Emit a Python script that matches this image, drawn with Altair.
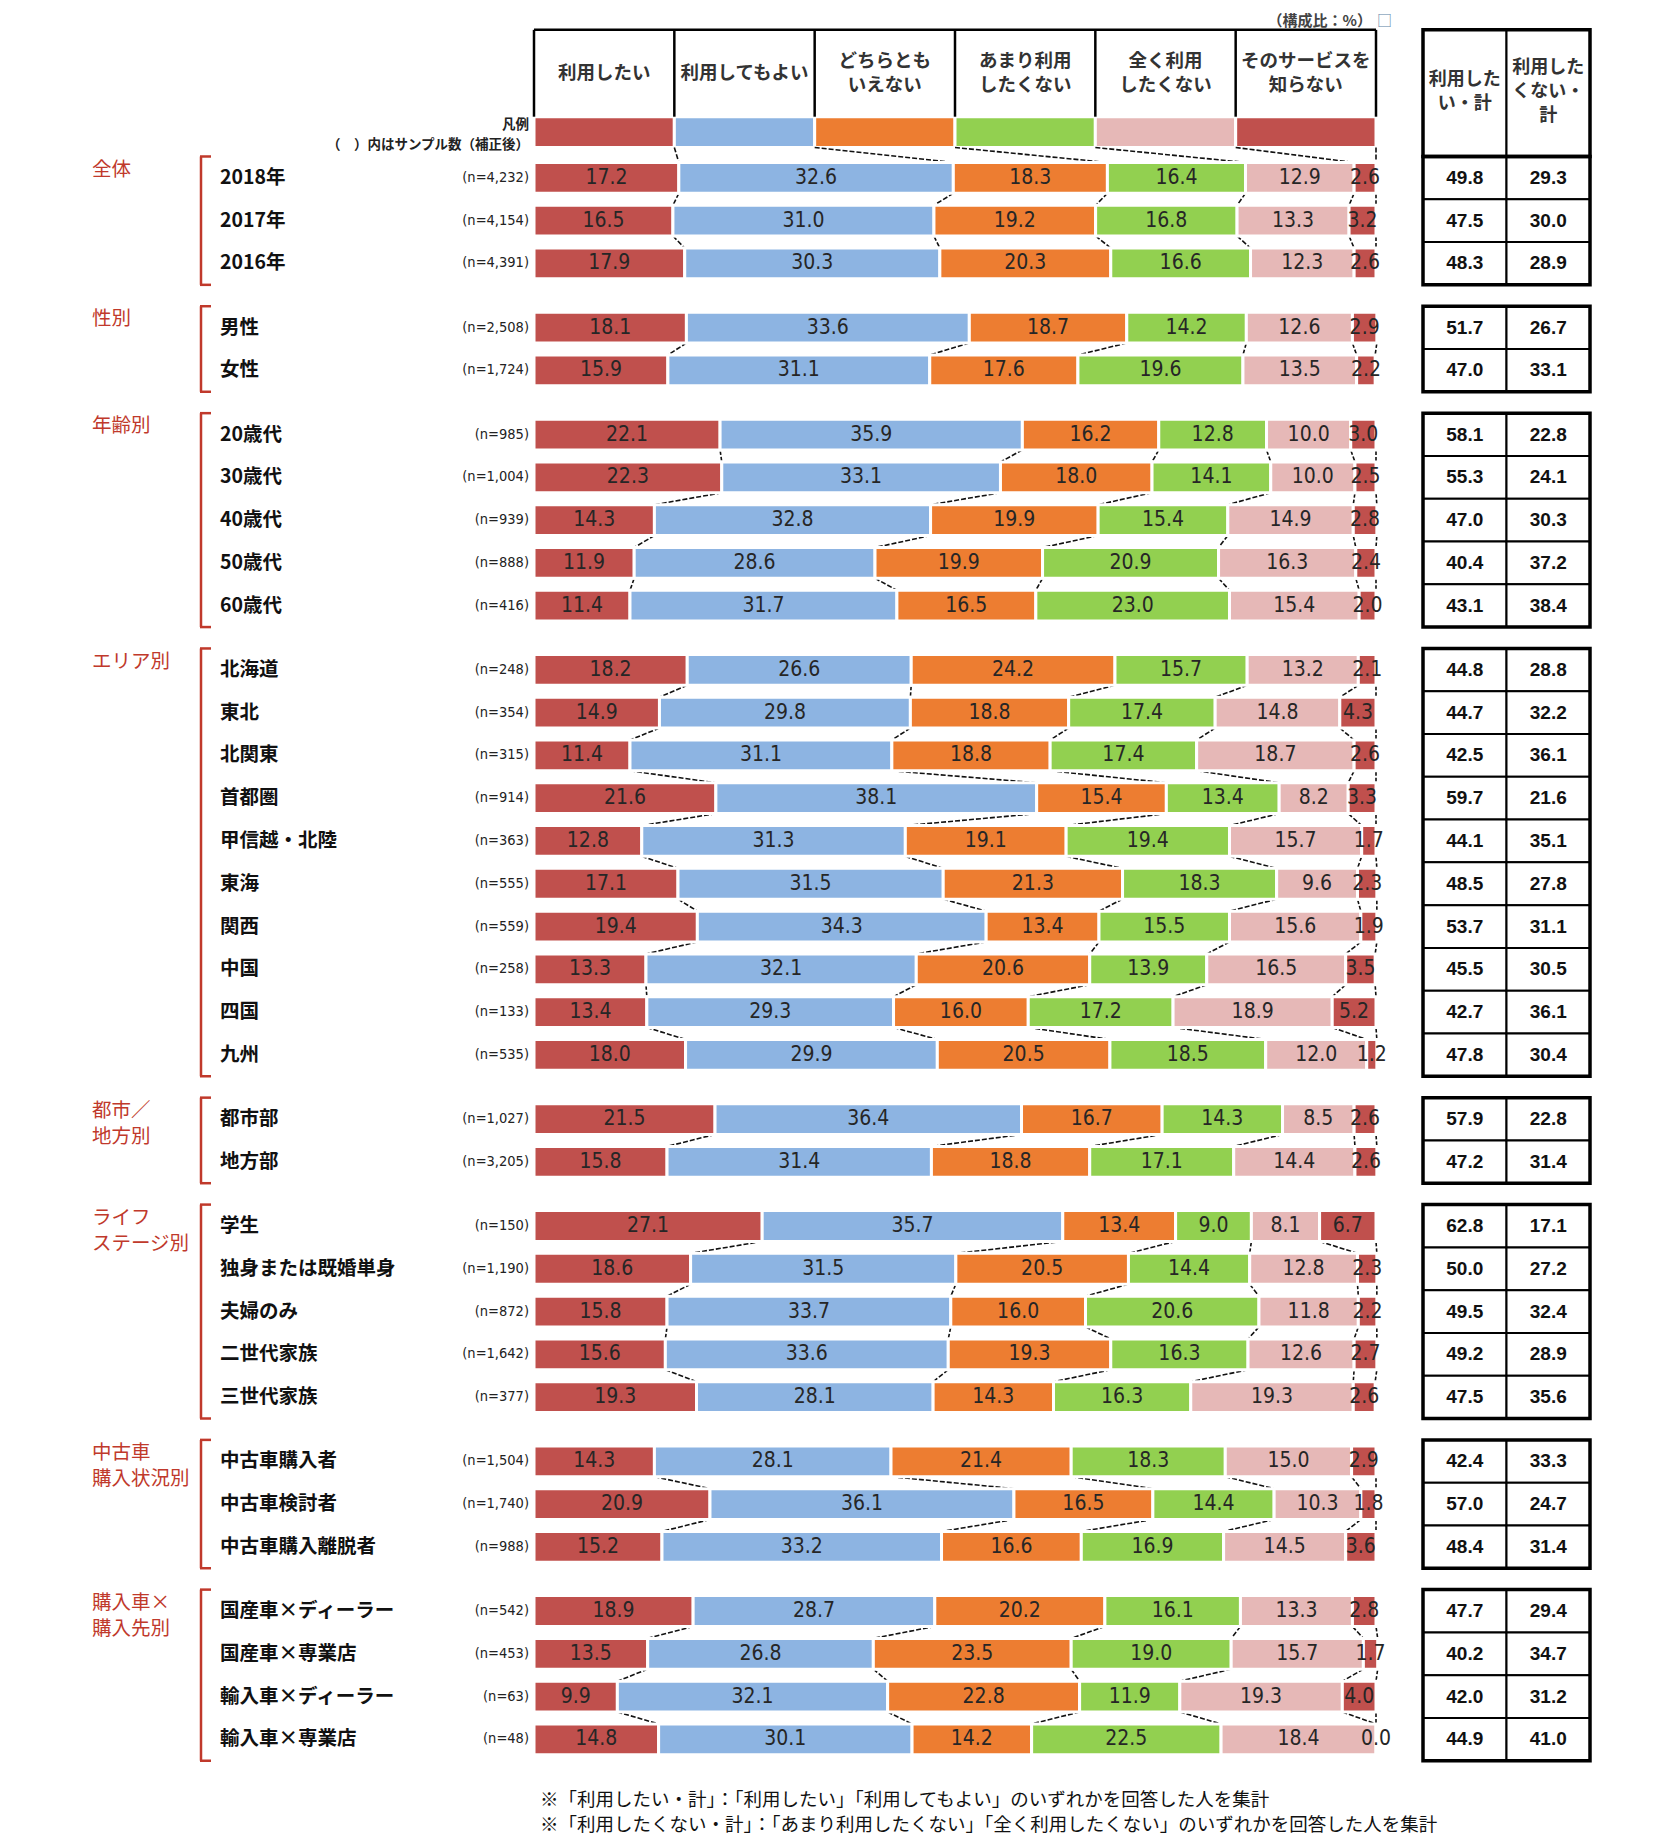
import altair as alt
import pandas as pd

# ---------------- data ----------------
series_names = ["利用したい", "利用してもよい", "どちらともいえない",
                "あまり利用したくない", "全く利用したくない", "そのサービスを知らない"]
header_labels = ["利用したい", "利用してもよい", "どちらとも\nいえない",
                 "あまり利用\nしたくない", "全く利用\nしたくない", "そのサービスを\n知らない"]
series_colors = ["#C0504D", "#8DB4E2", "#ED7D31", "#92D050", "#E6B8B7", "#C0504D"]

group_labels = ["全体", "性別", "年齢別", "エリア別", "都市／\n地方別",
                "ライフ\nステージ別", "中古車\n購入状況別", "購入車×\n購入先別"]
group_sizes = [3, 2, 5, 10, 2, 5, 3, 4]

row_labels = ["2018年", "2017年", "2016年", "男性", "女性",
              "20歳代", "30歳代", "40歳代", "50歳代", "60歳代",
              "北海道", "東北", "北関東", "首都圏", "甲信越・北陸", "東海", "関西", "中国", "四国", "九州",
              "都市部", "地方部",
              "学生", "独身または既婚単身", "夫婦のみ", "二世代家族", "三世代家族",
              "中古車購入者", "中古車検討者", "中古車購入離脱者",
              "国産車×ディーラー", "国産車×専業店", "輸入車×ディーラー", "輸入車×専業店"]
sample_sizes = ["(n=4,232)", "(n=4,154)", "(n=4,391)", "(n=2,508)", "(n=1,724)",
                "(n=985)", "(n=1,004)", "(n=939)", "(n=888)", "(n=416)",
                "(n=248)", "(n=354)", "(n=315)", "(n=914)", "(n=363)", "(n=555)", "(n=559)",
                "(n=258)", "(n=133)", "(n=535)",
                "(n=1,027)", "(n=3,205)",
                "(n=150)", "(n=1,190)", "(n=872)", "(n=1,642)", "(n=377)",
                "(n=1,504)", "(n=1,740)", "(n=988)",
                "(n=542)", "(n=453)", "(n=63)", "(n=48)"]

v_want = [17.2, 16.5, 17.9, 18.1, 15.9, 22.1, 22.3, 14.3, 11.9, 11.4,
          18.2, 14.9, 11.4, 21.6, 12.8, 17.1, 19.4, 13.3, 13.4, 18.0,
          21.5, 15.8, 27.1, 18.6, 15.8, 15.6, 19.3, 14.3, 20.9, 15.2,
          18.9, 13.5, 9.9, 14.8]
v_ok = [32.6, 31.0, 30.3, 33.6, 31.1, 35.9, 33.1, 32.8, 28.6, 31.7,
        26.6, 29.8, 31.1, 38.1, 31.3, 31.5, 34.3, 32.1, 29.3, 29.9,
        36.4, 31.4, 35.7, 31.5, 33.7, 33.6, 28.1, 28.1, 36.1, 33.2,
        28.7, 26.8, 32.1, 30.1]
v_neutral = [18.3, 19.2, 20.3, 18.7, 17.6, 16.2, 18.0, 19.9, 19.9, 16.5,
             24.2, 18.8, 18.8, 15.4, 19.1, 21.3, 13.4, 20.6, 16.0, 20.5,
             16.7, 18.8, 13.4, 20.5, 16.0, 19.3, 14.3, 21.4, 16.5, 16.6,
             20.2, 23.5, 22.8, 14.2]
v_rather_not = [16.4, 16.8, 16.6, 14.2, 19.6, 12.8, 14.1, 15.4, 20.9, 23.0,
                15.7, 17.4, 17.4, 13.4, 19.4, 18.3, 15.5, 13.9, 17.2, 18.5,
                14.3, 17.1, 9.0, 14.4, 20.6, 16.3, 16.3, 18.3, 14.4, 16.9,
                16.1, 19.0, 11.9, 22.5]
v_never = [12.9, 13.3, 12.3, 12.6, 13.5, 10.0, 10.0, 14.9, 16.3, 15.4,
           13.2, 14.8, 18.7, 8.2, 15.7, 9.6, 15.6, 16.5, 18.9, 12.0,
           8.5, 14.4, 8.1, 12.8, 11.8, 12.6, 19.3, 15.0, 10.3, 14.5,
           13.3, 15.7, 19.3, 18.4]
v_unknown = [2.6, 3.2, 2.6, 2.9, 2.2, 3.0, 2.5, 2.8, 2.4, 2.0,
             2.1, 4.3, 2.6, 3.3, 1.7, 2.3, 1.9, 3.5, 5.2, 1.2,
             2.6, 2.6, 6.7, 2.3, 2.2, 2.7, 2.6, 2.9, 1.8, 3.6,
             2.8, 1.7, 4.0, 0.0]
total_want = [49.8, 47.5, 48.3, 51.7, 47.0, 58.1, 55.3, 47.0, 40.4, 43.1,
              44.8, 44.7, 42.5, 59.7, 44.1, 48.5, 53.7, 45.5, 42.7, 47.8,
              57.9, 47.2, 62.8, 50.0, 49.5, 49.2, 47.5, 42.4, 57.0, 48.4,
              47.7, 40.2, 42.0, 44.9]
total_not = [29.3, 30.0, 28.9, 26.7, 33.1, 22.8, 24.1, 30.3, 37.2, 38.4,
             28.8, 32.2, 36.1, 21.6, 35.1, 27.8, 31.1, 30.5, 36.1, 30.4,
             22.8, 31.4, 17.1, 27.2, 32.4, 28.9, 35.6, 33.3, 24.7, 31.4,
             29.4, 34.7, 31.2, 41.0]
table_headers = ["利用した\nい・計", "利用した\nくない・\n計"]
unit_note = "（構成比：%）"
unit_box = "□"
legend_note = "凡例"
sample_note = "（　）内はサンプル数（補正後）"
footnotes = ["※「利用したい・計」：「利用したい」「利用してもよい」のいずれかを回答した人を集計",
             "※「利用したくない・計」：「あまり利用したくない」「全く利用したくない」のいずれかを回答した人を集計"]

series_values = [v_want, v_ok, v_neutral, v_rather_not, v_never, v_unknown]

# ---------------- layout constants ----------------
H = 1826
W_LAB, W_BAR, W_TAB = 526, 842, 282
TAB_L, TAB_R = 47, 214
HALF = 0.36
LEG_Y = -1.07
HEAD_TOP = -3.46
HEAD_BOT = LEG_Y - HALF
LINE_U = 0.28          # half a text line in row units
PITCH = 42.78
Y_MIN = -3.971
Y_MAX = Y_MIN + H / PITCH
UNIT_Y = Y_MIN + 0.31
JP = "Noto Sans CJK JP"
NUM = "Liberation Sans Narrow, DejaVu Sans Condensed, Liberation Sans, sans-serif"
RED = "#C0392B"

YS = alt.Scale(domain=[Y_MIN, Y_MAX], reverse=True, nice=False, zero=False)
XS = alt.Scale(domain=[0, 100], nice=False, zero=False)
XT = alt.Scale(domain=[0, 2], range=[TAB_L, TAB_R], nice=False, zero=False)
CS = alt.Scale(domain=series_names, range=series_colors)

# row positions (groups separated by half a row)
pos, grp = [], []
i = 0
for g, size in enumerate(group_sizes):
    for _ in range(size):
        pos.append(i + 0.5 * g)
        grp.append(g)
        i += 1
n = len(row_labels)

bars = pd.DataFrame([
    dict(row=r, pos=pos[r], k=k, series=series_names[k], value=series_values[k][r])
    for r in range(n) for k in range(6)
])

legend_df = pd.DataFrame([
    dict(k=k, series=series_names[k], label=header_labels[k],
         x0=k * 100 / 6, x1=(k + 1) * 100 / 6, xm=(k + 0.5) * 100 / 6,
         ytop=LEG_Y - HALF, ybot=LEG_Y + HALF,
         yh=-2.45 - header_labels[k].count("\n") * LINE_U)
    for k in range(6)
])
divider_df = pd.DataFrame([dict(x=k * 100 / 6, y=HEAD_TOP, y2=HEAD_BOT) for k in range(7)])
topline_df = pd.DataFrame([dict(x=0, x2=100, y=HEAD_TOP)])

cum = []
for r in range(n):
    c, lst = 0.0, []
    for k in range(6):
        c += series_values[k][r]
        lst.append(c)
    cum.append(lst)
conn = []
for k in range(6):
    conn.append(dict(xa=(k + 1) * 100 / 6, ya=LEG_Y + HALF, xb=cum[0][k], yb=pos[0] - HALF))
for r in range(n - 1):
    if grp[r] == grp[r + 1]:
        for k in range(6):
            conn.append(dict(xa=cum[r][k], ya=pos[r] + HALF, xb=cum[r + 1][k], yb=pos[r + 1] - HALF))
conn_df = pd.DataFrame(conn)

# ---------------- bar panel ----------------
stacked = alt.Chart(bars).transform_stack(
    stack="value", groupby=["row"], as_=["x0", "x1"],
    sort=[alt.SortField("k", order="ascending")]
).transform_calculate(
    ytop=f"datum.pos - {HALF}", ybot=f"datum.pos + {HALF}", xm="(datum.x0 + datum.x1) / 2"
)
bar_rects = stacked.mark_rect(stroke="white", strokeWidth=3).encode(
    x=alt.X("x0:Q", scale=XS, axis=None), x2="x1:Q",
    y=alt.Y("ytop:Q", scale=YS, axis=None), y2="ybot:Q",
    color=alt.Color("series:N", scale=CS, legend=None),
)
bar_text = stacked.mark_text(font=NUM, fontSize=21, color="#262626", baseline="middle").encode(
    x=alt.X("xm:Q", scale=XS, axis=None),
    y=alt.Y("pos:Q", scale=YS, axis=None),
    text=alt.Text("value:Q", format=".1f"),
)
connectors = alt.Chart(conn_df).mark_rule(color="#111", strokeWidth=1.6, strokeDash=[5, 2]).encode(
    x=alt.X("xa:Q", scale=XS, axis=None), x2="xb:Q",
    y=alt.Y("ya:Q", scale=YS, axis=None), y2="yb:Q",
)
legend_rects = alt.Chart(legend_df).mark_rect(stroke="white", strokeWidth=3).encode(
    x=alt.X("x0:Q", scale=XS, axis=None), x2="x1:Q",
    y=alt.Y("ytop:Q", scale=YS, axis=None), y2="ybot:Q",
    color=alt.Color("series:N", scale=CS, legend=None),
)
header_text = alt.Chart(legend_df).mark_text(
    font=JP, fontSize=18.5, fontWeight="bold", color="#333", lineBreak="\n", lineHeight=24, baseline="middle"
).encode(
    x=alt.X("xm:Q", scale=XS, axis=None), y=alt.Y("yh:Q", scale=YS, axis=None), text="label:N"
)
dividers = alt.Chart(divider_df).mark_rule(color="black", strokeWidth=2.5).encode(
    x=alt.X("x:Q", scale=XS, axis=None), y=alt.Y("y:Q", scale=YS, axis=None), y2="y2:Q"
)
topline = alt.Chart(topline_df).mark_rule(color="black", strokeWidth=2.5).encode(
    x=alt.X("x:Q", scale=XS, axis=None), x2="x2:Q", y=alt.Y("y:Q", scale=YS, axis=None)
)
unit_df = pd.DataFrame([dict(t=unit_note, y=UNIT_Y)])
unit_text = alt.Chart(unit_df).mark_text(font=JP, fontSize=15, fontWeight="bold", color="#444", align="right", baseline="middle").encode(
    x=alt.value(W_BAR - 4), y=alt.Y("y:Q", scale=YS, axis=None), text="t:N"
)
foot_df = pd.DataFrame([dict(t=footnotes[0], y=37.918), dict(t=footnotes[1], y=38.50)])
foot_text = alt.Chart(foot_df).mark_text(font=JP, fontSize=18.5, color="#111", align="left", baseline="middle").encode(
    x=alt.value(6), y=alt.Y("y:Q", scale=YS, axis=None), text="t:N"
)
bar_panel = alt.layer(
    legend_rects, header_text, dividers, topline, connectors, bar_rects, bar_text, unit_text, foot_text
).properties(width=W_BAR, height=H)

# ---------------- label panel ----------------
rows_df = pd.DataFrame(dict(label=row_labels, n=sample_sizes, pos=pos))
group_rows = []
start = 0
for g, size in enumerate(group_sizes):
    first, last = pos[start], pos[start + size - 1]
    group_rows.append(dict(label=group_labels[g], ylab=first - 0.4, top=first - 0.5, bot=last + 0.5))
    start += size
groups_df = pd.DataFrame(group_rows)

group_text = alt.Chart(groups_df).mark_text(
    font=JP, fontSize=19.5, color=RED, align="left", baseline="top", lineBreak="\n", lineHeight=26
).encode(x=alt.value(84), y=alt.Y("ylab:Q", scale=YS, axis=None), text="label:N")
bracket_v = alt.Chart(groups_df).mark_rule(color=RED, strokeWidth=2.5).encode(
    x=alt.value(193), y=alt.Y("top:Q", scale=YS, axis=None), y2="bot:Q"
)
bracket_t = alt.Chart(groups_df).mark_rule(color=RED, strokeWidth=2.5).encode(
    x=alt.value(192), x2=alt.value(203), y=alt.Y("top:Q", scale=YS, axis=None)
)
bracket_b = alt.Chart(groups_df).mark_rule(color=RED, strokeWidth=2.5).encode(
    x=alt.value(192), x2=alt.value(203), y=alt.Y("bot:Q", scale=YS, axis=None)
)
row_text = alt.Chart(rows_df).mark_text(
    font=JP, fontSize=19.5, fontWeight="bold", color="#111", align="left", baseline="middle"
).encode(x=alt.value(212), y=alt.Y("pos:Q", scale=YS, axis=None), text="label:N")
n_text = alt.Chart(rows_df).mark_text(
    font=NUM, fontSize=14.5, color="#222", align="right", baseline="middle"
).encode(x=alt.value(521), y=alt.Y("pos:Q", scale=YS, axis=None), text="n:N")
notes_df = pd.DataFrame([dict(t=legend_note, y=-1.24), dict(t=sample_note, y=-0.77)])
notes_text = alt.Chart(notes_df).mark_text(
    font=JP, fontSize=13.5, fontWeight="bold", color="#222", align="right", baseline="middle"
).encode(x=alt.value(521), y=alt.Y("y:Q", scale=YS, axis=None), text="t:N")
label_panel = alt.layer(
    bracket_v, bracket_t, bracket_b, group_text, row_text, n_text, notes_text
).properties(width=W_LAB, height=H)

# ---------------- table panel ----------------
cells = pd.DataFrame(
    [dict(col=0, value=total_want[r], pos=pos[r]) for r in range(n)] +
    [dict(col=1, value=total_not[r], pos=pos[r]) for r in range(n)]
)
head_cells = pd.DataFrame([
    dict(col=c, label=table_headers[c], top=HEAD_TOP, bot=-0.5,
         ym=-2.0 - table_headers[c].count("\n") * LINE_U)
    for c in range(2)
])
blocks = pd.DataFrame(
    [dict(top=HEAD_TOP, bot=-0.5)] +
    [dict(top=r["top"], bot=r["bot"]) for r in group_rows]
)

cell_rects = alt.Chart(cells).transform_calculate(
    c2="datum.col + 1", top="datum.pos - 0.5", bot="datum.pos + 0.5"
).mark_rect(fill="white", stroke="black", strokeWidth=2).encode(
    x=alt.X("col:Q", scale=XT, axis=None), x2="c2:Q",
    y=alt.Y("top:Q", scale=YS, axis=None), y2="bot:Q",
)
cell_text = alt.Chart(cells).transform_calculate(cm="datum.col + 0.5").mark_text(
    font="Liberation Sans, Arial, sans-serif", fontSize=19, fontWeight="bold", color="#111", baseline="middle"
).encode(
    x=alt.X("cm:Q", scale=XT, axis=None), y=alt.Y("pos:Q", scale=YS, axis=None),
    text=alt.Text("value:Q", format=".1f"),
)
head_rects = alt.Chart(head_cells).transform_calculate(c2="datum.col + 1").mark_rect(
    fill="white", stroke="black", strokeWidth=2
).encode(
    x=alt.X("col:Q", scale=XT, axis=None), x2="c2:Q",
    y=alt.Y("top:Q", scale=YS, axis=None), y2="bot:Q",
)
head_text = alt.Chart(head_cells).transform_calculate(cm="datum.col + 0.5").mark_text(
    font=JP, fontSize=18, fontWeight="bold", color="#333", lineBreak="\n", lineHeight=24, baseline="middle"
).encode(
    x=alt.X("cm:Q", scale=XT, axis=None), y=alt.Y("ym:Q", scale=YS, axis=None), text="label:N"
)
block_rects = alt.Chart(blocks).transform_calculate(c0="0", c2="2").mark_rect(
    filled=False, stroke="black", strokeWidth=3.5
).encode(
    x=alt.X("c0:Q", scale=XT, axis=None), x2="c2:Q",
    y=alt.Y("top:Q", scale=YS, axis=None), y2="bot:Q",
)
box_df = pd.DataFrame([dict(t=unit_box, y=UNIT_Y)])
box_text = alt.Chart(box_df).mark_text(font=JP, fontSize=15, color="#5b7fa6", align="left", baseline="middle").encode(
    x=alt.value(1), y=alt.Y("y:Q", scale=YS, axis=None), text="t:N"
)
table_panel = alt.layer(
    head_rects, cell_rects, block_rects, head_text, cell_text, box_text
).properties(width=W_TAB, height=H)

chart = alt.hconcat(label_panel, bar_panel, table_panel, spacing=0, bounds="flush").properties(
    padding=0
).configure_view(stroke=None)

chart.save("out.html", embed_options={"renderer": "svg", "actions": False})
